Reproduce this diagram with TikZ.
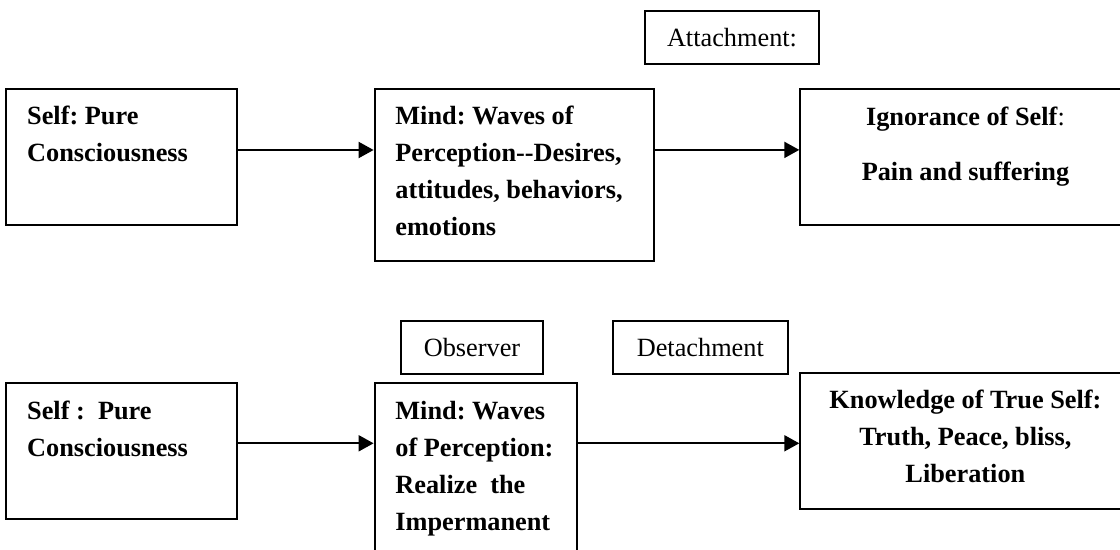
\documentclass[tikz,border=0pt]{standalone}
\usepackage{fontspec}
\setmainfont{Liberation Serif}
\usetikzlibrary{arrows.meta, positioning, calc}
\tikzset{
  box/.style={
    rectangle, draw=black, line width=1pt, inner sep=0pt
  },
  tagbox/.style={
    rectangle, draw=black, line width=1pt, inner sep=0pt,
    font=\fontsize{13.15}{18.5}\selectfont
  },
  txt/.style={
    inner sep=0pt, align=left,
    font=\fontsize{13.15}{18.5}\selectfont\bfseries
  },
  ctxt/.style={
    inner sep=0pt, align=center,
    font=\fontsize{13.15}{18.5}\selectfont\bfseries
  },
  arrow/.style={-{Triangle[length=7.5pt,width=8pt]}, line width=1pt}
}

\begin{document}
\frenchspacing
\begin{tikzpicture}[x=0.5pt, y=-0.5pt]
  \path[use as bounding box, clip] (0,0) rectangle (1120,550);
  \fill[white] (0,0) rectangle (1120,550);
  % Upper row
  \node[box, anchor=north west, minimum width=115.5pt, minimum height=68pt]
    (selfA) at (5.4,88.3) {};
  \node[box, anchor=north west, minimum width=139.6pt, minimum height=86pt]
    (mindA) at (373.6,88.3) {};
  \node[box, anchor=north west, minimum width=180pt, minimum height=68pt]
    (ignor) at (799.3,88.3) {};
  \node[tagbox, anchor=north west, minimum width=87pt, minimum height=26.3pt]
    (attach) at (644,10.5) {Attachment:};
  \node[txt, anchor=north west] (selfAtxt) at (26.8,105.5)
    {Self: Pure\\Consciousness};
  \node[txt, anchor=north west] (mindAtxt) at (395,106)
    {Mind: Waves of\\Perception{-}{-}Desires,\\attitudes, behaviors,\\emotions};
  \node[ctxt, anchor=north] (ignorTxt) at (965.5,107)
    {Ignorance of Self\textmd{:}\\[9pt]Pain and suffering};
  \draw[arrow] ([yshift=3.65pt]selfA.east) -- ([yshift=3.65pt]selfA.east -| mindA.west);
  \draw[arrow] ([yshift=3.7pt]ignor.west -| mindA.east) -- ([yshift=3.7pt]ignor.west);
  % Lower row
  \node[box, anchor=north west, minimum width=115.5pt, minimum height=68pt]
    (selfB) at (5.4,382.3) {};
  \node[box, anchor=north west, minimum width=101.2pt, minimum height=100pt]
    (mindB) at (373.6,382.3) {};
  \node[box, anchor=north west, minimum width=180pt, minimum height=68pt]
    (truth) at (799.3,372.3) {};
  \node[tagbox, anchor=north west, minimum width=71pt, minimum height=26.3pt]
    (observer) at (400,320) {Observer};
  \node[tagbox, anchor=north west, minimum width=87.5pt, minimum height=26.3pt]
    (detach) at (611.8,320) {Detachment};
  \node[txt, anchor=north west] (selfBtxt) at (26.8,401)
    {Self :\ \ Pure\\Consciousness};
  \node[txt, anchor=north west] (mindBtxt) at (395,401)
    {Mind: Waves\\of Perception:\\Realize\ \ the\\Impermanent};
  \node[ctxt, anchor=north] (truthTxt) at (965.4,390)
    {Knowledge of True Self:\\Truth, Peace, bliss,\\Liberation};
  \draw[arrow] ([yshift=4pt]selfB.east) -- ([yshift=4pt]selfB.east -| mindB.west);
  \draw[arrow] ([yshift=-1pt]truth.west -| mindB.east) -- ([yshift=-1pt]truth.west);
\end{tikzpicture}
\end{document}
